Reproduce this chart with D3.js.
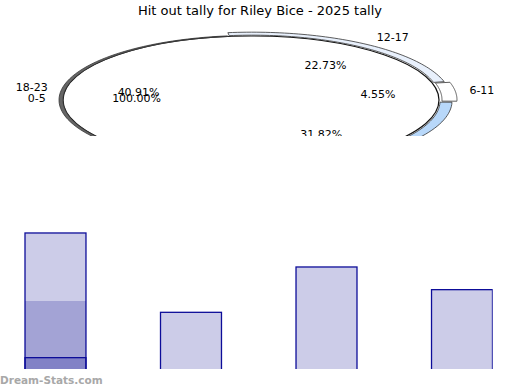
<!DOCTYPE html>
<html>
<head>
<meta charset="utf-8">
<script src="https://cdn.jsdelivr.net/npm/d3@7"></script>
<style>
  body { margin: 0; background: #fff; }
  text { font-family: "DejaVu Sans", sans-serif; }
</style>
</head>
<body>
<svg id="chart" width="520" height="390"></svg>
<script>
const width = 520;
const height = 390;

// pie data
const pieCategories = ["12-17", "6-11", "24-29", "18-23", "0-5"];
const pieCounts = [5, 1, 7, 9, 0];
const pieLabels = ["22.73%", "4.55%", "31.82%", "40.91%", "100.00%"];

// bar data (first bar has two overlaid layers on top of the base)
const barCategories = ["a", "b", "c", "d"];
const barValues = [24, 10, 18, 14];
const overlayValues1 = [12, null, null, null];
const overlayValues2 = [2, null, null, null];

const svg = d3.select("#chart");

svg.append("text")
  .attr("x", width / 2)
  .attr("y", 15)
  .attr("text-anchor", "middle")
  .attr("font-size", 13)
  .text("Hit out tally for Riley Bice - 2025 tally");

// ---- pie (flattened ellipse) ----
const cx = 251, cy = 100, rx = 188, ry = 64;
const sliceStyle = [
  { fill: "#e8f0fc", dx: 11, dy: 3, explode: 2 },
  { fill: "#ffffff", dx: 15, dy: 3, explode: 3 },
  { fill: "#b8d8fa", dx: 12, dy: 3, explode: 2 },
  { fill: "#666666", dx: 4, dy: 0.6, explode: 0 },
  { fill: "#666666", dx: 4, dy: 0.6, explode: 0 },
];
// label centre and radii
const lab = { cx: 258, cy: 99, pctRx: 121, pctRy: 41.5, nameRx: 213, nameRy: 75 };

svg.append("clipPath").attr("id", "pieclip")
  .append("rect").attr("x", 0).attr("y", 20).attr("width", width).attr("height", 116);

const pieG = svg.append("g").attr("clip-path", "url(#pieclip)");

const start = -7 * Math.PI / 180;
const pie = d3.pie().sort(null).value(d => d).startAngle(start).endAngle(start + 2 * Math.PI);
const arcs = pie(pieCounts);

const pt = (a, sx, sy) => [cx + sx * Math.sin(a), cy - sy * Math.cos(a)];
const line = d3.line();

pieG.append("ellipse")
  .attr("cx", cx).attr("cy", cy).attr("rx", rx).attr("ry", ry)
  .attr("fill", "#fff").attr("stroke", "#111").attr("stroke-width", 1.2);

arcs.forEach((d, i) => {
  if (d.endAngle - d.startAngle <= 0) return;
  const s = sliceStyle[i];
  const mid = (d.startAngle + d.endAngle) / 2;
  const ox = s.explode * Math.sin(mid), oy = -s.explode * Math.cos(mid) * 0.5;
  const steps = d3.range(0, 61).map(k => d.startAngle + (d.endAngle - d.startAngle) * k / 60);
  const outer = steps.map(a => pt(a, rx + s.dx, ry + s.dy));
  const inner = steps.slice().reverse().map(a => pt(a, rx, ry));
  pieG.append("path")
    .attr("d", line(outer.concat(inner)) + "Z")
    .attr("transform", `translate(${ox},${oy})`)
    .attr("fill", s.fill)
    .attr("stroke", "#333")
    .attr("stroke-width", 0.8);
});

// labels
let prev = null;
arcs.forEach((d, i) => {
  const mid = (d.startAngle + d.endAngle) / 2;
  let namePos, pctPos, anchor;
  if (d.value === 0 && prev) {
    // empty slice: label stacked below the previous one
    namePos = [prev.namePos[0] - 2, prev.namePos[1] + 11];
    pctPos = [prev.pctPos[0] - 2, prev.pctPos[1] + 6];
    anchor = prev.anchor;
  } else {
    const s = Math.sin(mid), c = Math.cos(mid);
    namePos = [lab.cx + lab.nameRx * s, lab.cy - lab.nameRy * c];
    pctPos = [lab.cx + lab.pctRx * s, lab.cy - lab.pctRy * c];
    anchor = s >= 0 ? "start" : "end";
  }
  pieG.append("text")
    .attr("x", namePos[0]).attr("y", namePos[1] + 4)
    .attr("text-anchor", anchor).attr("font-size", 11)
    .text(pieCategories[i]);
  pieG.append("text")
    .attr("x", pctPos[0]).attr("y", pctPos[1] + 4)
    .attr("text-anchor", "middle").attr("font-size", 11)
    .text(pieLabels[i]);
  prev = { namePos, pctPos, anchor };
});

// ---- bars ----
const x = d3.scaleBand().domain(barCategories).range([25, 492.5]).paddingInner(0.55).paddingOuter(0);
const y = d3.scaleLinear().domain([0, 40]).range([369, 142.3]);

svg.append("clipPath").attr("id", "barclip")
  .append("rect").attr("x", 0).attr("y", 140).attr("width", 492.7).attr("height", 229);

const barG = svg.append("g").attr("clip-path", "url(#barclip)");

function drawBars(values, stroke) {
  barG.selectAll(null)
    .data(values.map((v, i) => ({ k: barCategories[i], v })).filter(d => d.v != null))
    .join("rect")
    .attr("x", d => x(d.k))
    .attr("y", d => y(d.v))
    .attr("width", x.bandwidth())
    .attr("height", d => y(0) - y(d.v) + 2)
    .attr("fill", "#00008b")
    .attr("fill-opacity", 0.2)
    .attr("stroke", stroke ? "#0d0d99" : "none")
    .attr("stroke-width", 1.3);
}
drawBars(barValues, true);
drawBars(overlayValues1, false);
drawBars(overlayValues2, true);

svg.append("text")
  .attr("x", 0).attr("y", 384)
  .attr("font-size", 10.5).attr("font-weight", "bold")
  .attr("fill", "#a8a8a8")
  .text("Dream-Stats.com");
</script>
</body>
</html>
